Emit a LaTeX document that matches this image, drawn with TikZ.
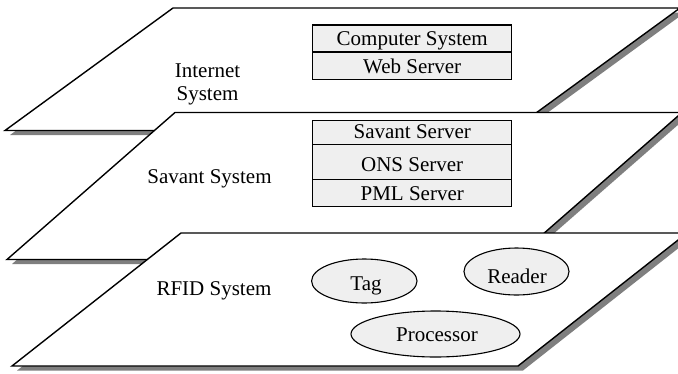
\documentclass[tikz,border=0pt]{standalone}
\usepackage{fontspec}
\setmainfont{Liberation Serif}
\usetikzlibrary{shapes.geometric}
\definecolor{shadowgray}{HTML}{7F7F7F}
\definecolor{partfill}{HTML}{EFEFEF}

\begin{document}
\begin{tikzpicture}[x=1pt,y=-1pt,
  plane/.style={draw=black, fill=white, line width=1.4pt, line join=miter},
  planeshadow/.style={fill=shadowgray, shift={(5,4.5)}},
  srv/.style={rectangle, draw=black, fill=partfill, line width=1.2pt,
              minimum width=199pt, inner sep=0pt},
  part/.style={ellipse, draw=black, fill=partfill, line width=1.1pt, inner sep=0pt},
  txt/.style={anchor=base, inner sep=0pt, font=\fontsize{21}{23}\selectfont},
]
\clip (0,0) rectangle (678,373);

% ---- Internet layer ----
\fill[planeshadow] (173,8) -- (680,8) -- (512,130.5) -- (5,130.5) -- cycle;
\draw[plane] (173,8) -- (680,8) -- (512,130.5) -- (5,130.5) -- cycle;
% two-line label: its base anchor sits on the last line
\node[txt, align=center] (inet) at (207.5,100) {Internet\\System};
\node[srv, minimum height=26.5pt] (cs) at (412.2,38.2) {};
\node[srv, minimum height=27.8pt] (ws) at (412.2,65.4) {};
\draw[line width=2.6pt] (cs.south west) -- (cs.south east);
\node[txt] (cst) at (412.2,45) {Computer System};
\node[txt] (wst) at (412.2,73.3) {Web Server};

% ---- Savant layer ----
\fill[planeshadow] (175,112.5) -- (682,112.5) -- (514,259.5) -- (7,259.5) -- cycle;
\draw[plane] (175,112.5) -- (682,112.5) -- (514,259.5) -- (7,259.5) -- cycle;
\node[txt] (sav) at (209.5,183) {Savant System};
\node[srv, minimum height=23.6pt] (ss) at (412.2,132.5) {};
\node[srv, minimum height=35pt] (ons) at (412.2,161.8) {};
\node[srv, minimum height=27.4pt] (pml) at (412.2,193) {};
\node[txt] (sst) at (412.2,138.3) {Savant Server};
\node[txt] (onst) at (412.2,171.7) {ONS Server};
\node[txt] (pmlt) at (412.2,200) {PML Server};

% ---- RFID layer ----
\fill[planeshadow] (181,233) -- (687,233) -- (518,366) -- (12,366) -- cycle;
\draw[plane] (181,233) -- (687,233) -- (518,366) -- (12,366) -- cycle;
\node[txt] (rfid) at (214,295) {RFID System};
\node[part, minimum width=105.4pt, minimum height=44pt] (tag) at (364.3,281) {};
\node[part, minimum width=105pt, minimum height=47pt] (rdr) at (516.5,271.5) {};
\node[part, minimum width=169pt, minimum height=46pt] (proc) at (435.5,334) {};
\node[txt] (tagt) at (366,290) {Tag};
\node[txt] (rdrt) at (517,283.3) {Reader};
\node[txt] (proct) at (437,341.7) {Processor};
\end{tikzpicture}
\end{document}
